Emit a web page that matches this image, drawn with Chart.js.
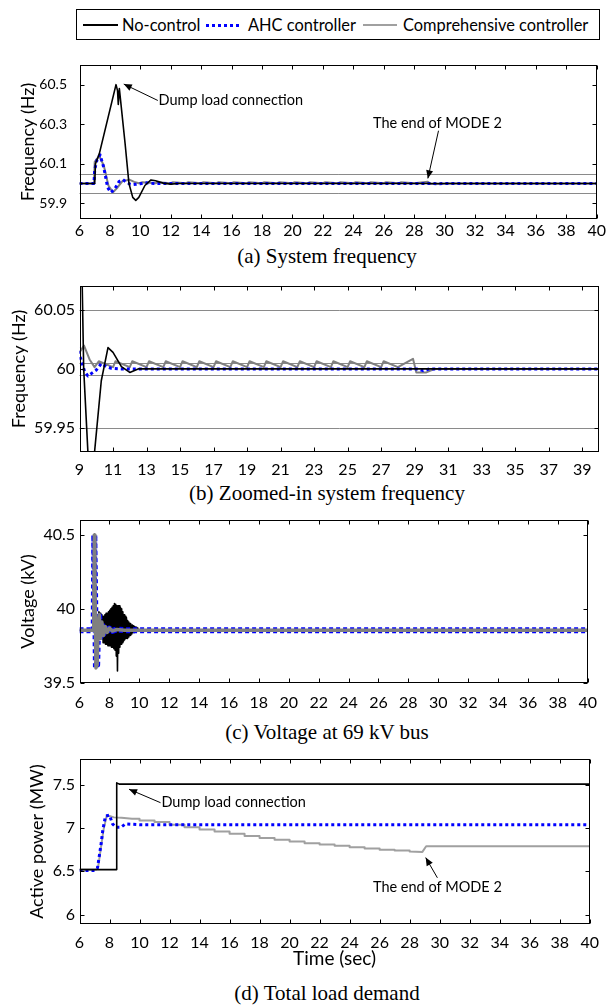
<!DOCTYPE html>
<html>
<head>
<meta charset="utf-8">
<script src="https://cdn.jsdelivr.net/npm/chart.js@4.4.1/dist/chart.umd.min.js"></script>
<style>
html,body{margin:0;padding:0;background:#fff;}
#wrap{position:relative;width:608px;height:1005px;overflow:hidden;font-family:Lato,'Open Sans',sans-serif;color:#000;}
canvas{position:absolute;left:0;}
.cap{position:absolute;left:0;width:654px;text-align:center;font-family:'Liberation Serif','Times New Roman',serif;font-size:21px;line-height:22px;white-space:nowrap;}
.lg{position:absolute;font-size:16.4px;line-height:20px;top:15px;white-space:nowrap;}
.sw{position:absolute;}
</style>
</head>
<body>
<div id="wrap">
  <div style="position:absolute;left:76px;top:9px;width:522px;height:29px;border:1px solid #000;"></div>
  <div class="sw" style="left:83px;top:24px;width:35px;height:2px;background:#000;"></div>
  <div class="lg" style="left:122px;">No-control</div>
  <div class="sw" style="left:206px;top:23.5px;width:34px;height:3px;background:repeating-linear-gradient(90deg,#0000ff 0 3px,transparent 3px 6px);"></div>
  <div class="lg" style="left:248px;">AHC controller</div>
  <div class="sw" style="left:363px;top:24px;width:34px;height:2px;background:#a0a0a0;"></div>
  <div class="lg" style="left:403px;">Comprehensive controller</div>

  <canvas id="cA" width="608" height="196" style="top:44px;"></canvas>
  <div class="cap" style="top:245px;">(a) System frequency</div>
  <canvas id="cB" width="608" height="204" style="top:272px;"></canvas>
  <div class="cap" style="top:482px;">(b) Zoomed-in system frequency</div>
  <canvas id="cC" width="608" height="214" style="top:506px;"></canvas>
  <div class="cap" style="top:721px;">(c) Voltage at 69 kV bus</div>
  <canvas id="cD" width="608" height="225" style="top:745px;"></canvas>
  <div class="cap" style="top:982px;">(d) Total load demand</div>
</div>
<script>
// ---------- Frequency (Hz), used by panels (a) and (b) ----------
const tNoCtrlF = [6, 7.0, 7.05, 7.3, 8.4, 8.5, 8.55, 8.62, 9.0, 9.25, 9.5, 9.7, 9.9, 10.3, 10.7, 11.0, 11.5, 12.0, 12.5, 40];
const fNoCtrl  = [60, 60, 60.1, 60.15, 60.5, 60.47, 60.4, 60.48, 60.2, 60.0, 59.93, 59.915, 59.93, 59.99, 60.018, 60.014, 60.002, 59.997, 60.0, 60.0];

const tAhcF = [6, 6.95, 7.0, 7.15, 7.35, 7.6, 7.85, 8.05, 8.3, 8.6, 8.85, 9.0, 9.3, 9.5, 9.7, 10.0, 10.3, 10.6, 10.9, 11.5, 29.2, 29.5, 29.9, 40];
const fAhc  = [60, 60, 60.07, 60.12, 60.145, 60.08, 59.98, 59.955, 59.97, 60.01, 60.02, 60.012, 59.998, 59.994, 59.996, 59.999, 60.0045, 60.002, 60.0005, 60.0, 60.0, 59.9985, 60.0, 60.0];

const tCompF = [6, 6.95, 7.0, 7.1, 7.3, 7.6, 7.9, 8.2, 8.5, 8.85, 9.0, 9.27, 9.6, 9.9,
  10.15, 11.0, 11.15, 12.0, 12.15, 13.0, 13.15, 14.0, 14.15, 15.0, 15.15, 16.0, 16.15, 17.0, 17.15,
  18.0, 18.15, 19.0, 19.15, 20.0, 20.15, 21.0, 21.15, 22.0, 22.15, 23.0, 23.15, 24.0, 24.15,
  25.0, 25.15, 26.0, 26.15, 27.0, 27.15, 28.0, 28.9, 29.1, 29.7, 30.2, 40];
const fComp  = [60, 60, 60.11, 60.12, 60.14, 60.09, 59.99, 59.955, 59.98, 60.015, 60.014, 60.0197, 60.008, 60.0015,
  60.0065, 60.0015, 60.0065, 60.0015, 60.0065, 60.0015, 60.0065, 60.0015, 60.0065, 60.0015, 60.0065, 60.0015, 60.0065, 60.0015, 60.0065,
  60.0015, 60.0065, 60.0015, 60.0065, 60.0015, 60.0065, 60.0015, 60.0065, 60.0015, 60.0065, 60.0015, 60.0065, 60.0015, 60.0065,
  60.0015, 60.0065, 60.0015, 60.0065, 60.0015, 60.0065, 60.0015, 60.0085, 59.997, 59.997, 60.0, 60.0];

// ---------- Voltage at 69 kV bus (kV), panel (c) ----------
const tNoCtrlV = [6, 7.26,
  7.30, 7.34, 7.38, 7.42, 7.46, 7.50, 7.54, 7.58, 7.62, 7.66, 7.70, 7.74, 7.78, 7.82, 7.86, 7.90,
  7.94, 7.98, 8.02, 8.06, 8.10, 8.14, 8.18, 8.22, 8.26, 8.30, 8.34, 8.38, 8.42, 8.46, 8.50, 8.54,
  8.58, 8.62, 8.66, 8.70, 8.74, 8.78, 8.82, 8.86, 8.90, 8.94, 8.98, 9.02, 9.06, 9.10, 9.14, 9.18,
  9.22, 9.26, 9.30, 9.34, 9.38, 9.42, 9.46, 9.50, 9.54, 9.58, 9.62, 9.66, 9.70, 9.74, 9.78, 9.82,
  9.86, 9.90, 10.0, 40];
const vNoCtrl = [39.855, 39.855,
  39.98, 39.80, 39.97, 39.82, 39.96, 39.80, 39.95, 39.77, 39.95, 39.77, 39.96, 39.76, 39.97, 39.76, 39.97, 39.75,
  39.98, 39.75, 39.99, 39.75, 40.00, 39.74, 40.01, 39.74, 40.02, 39.73, 40.035, 39.72, 40.03, 39.68, 40.02, 39.58,
  40.02, 39.70, 40.02, 39.74, 40.01, 39.76, 40.00, 39.77, 39.98, 39.78, 39.96, 39.79, 39.95, 39.80, 39.94, 39.80,
  39.92, 39.81, 39.91, 39.82, 39.90, 39.82, 39.89, 39.83, 39.89, 39.84, 39.885, 39.84, 39.88, 39.845, 39.875, 39.85,
  39.87, 39.85, 39.855, 39.855];

const tAhcV = [6, 6.95, 6.99, 7.03, 7.1, 7.18, 7.25, 7.32, 7.4, 7.5, 7.6, 7.72, 7.85, 8.0, 8.2, 8.5, 9.0, 40];
const vAhc  = [39.855, 39.855, 40.5, 40.2, 39.6, 39.62, 39.9, 39.95, 39.81, 39.9, 39.83, 39.87, 39.845, 39.865, 39.85, 39.86, 39.855, 39.855];

const tCompV = [6, 6.95, 6.99, 7.03, 7.1, 7.18, 7.25, 7.32, 7.4, 7.5, 7.6, 7.72, 7.85, 8.0, 8.2, 8.5, 9.0, 40];
const vComp  = [39.855, 39.855, 40.5, 40.2, 39.6, 39.62, 39.9, 39.96, 39.8, 39.91, 39.82, 39.88, 39.84, 39.87, 39.85, 39.86, 39.855, 39.855];

// ---------- Total load demand, active power (MW), panel (d) ----------
const tNoCtrlP = [6, 8.47, 8.48, 8.65, 40];
const pNoCtrl  = [6.52, 6.52, 7.525, 7.51, 7.51];

const tAhcP = [6, 7.0, 7.2, 7.45, 7.55, 7.73, 8.0, 8.2, 8.43, 8.75, 9.07, 9.5, 10, 40];
const pAhc  = [6.51, 6.51, 6.54, 6.83, 6.975, 7.14, 7.15, 7.05, 7.01, 7.01, 7.05, 7.045, 7.04, 7.04];

const tCompP = [6, 7.1, 7.25, 7.45, 7.6, 7.82, 8.0, 8.3, 8.8, 9.5,
  10, 10, 11, 11, 12, 12, 13, 13, 14, 14, 15, 15, 16, 16, 17, 17, 18, 18, 19, 19,
  20, 20, 21, 21, 22, 22, 23, 23, 24, 24, 25, 25, 26, 26, 27, 27, 28, 28, 28.85, 29.1, 40];
const pComp  = [6.52, 6.52, 6.56, 6.8, 6.98, 7.15, 7.14, 7.125, 7.12, 7.11,
  7.11, 7.09, 7.09, 7.07, 7.07, 7.04, 7.04, 7.01, 7.01, 6.985, 6.985, 6.96, 6.96, 6.935, 6.935, 6.91, 6.91, 6.885, 6.885, 6.865,
  6.865, 6.845, 6.845, 6.825, 6.825, 6.81, 6.81, 6.795, 6.795, 6.78, 6.78, 6.765, 6.765, 6.75, 6.75, 6.74, 6.74, 6.73, 6.725, 6.79, 6.79];

// ---------- Tick labels ----------
const xTicksMain = [6, 8, 10, 12, 14, 16, 18, 20, 22, 24, 26, 28, 30, 32, 34, 36, 38, 40];
const xTicksZoom = [9, 11, 13, 15, 17, 19, 21, 23, 25, 27, 29, 31, 33, 35, 37, 39];
const yTicksA = [59.9, 60.1, 60.3, 60.5];
const yTicksB = [59.95, 60, 60.05];
const yTicksC = [39.5, 40, 40.5];
const yTicksD = [6, 6.5, 7, 7.5];

// reference levels (horizontal gray lines)
const refA = [60.05, 59.95];
const refB = [60.05, 60.005, 59.995, 59.95];

const FONT = 'Lato, "Open Sans", sans-serif';
const BLACK = '#000000', BLUE = '#0000ff', GRAY = '#808080', LGRAY = '#a0a0a0';

function pts(t, v) { return t.map((x, i) => ({x: x, y: v[i]})); }

function arrow(ctx, x0, y0, x1, y1) {
  ctx.beginPath(); ctx.moveTo(x0, y0); ctx.lineTo(x1, y1); ctx.stroke();
  const a = Math.atan2(y1 - y0, x1 - x0), L = 8, W = 3.5;
  ctx.beginPath();
  ctx.moveTo(x1, y1);
  ctx.lineTo(x1 - L * Math.cos(a) + W * Math.sin(a), y1 - L * Math.sin(a) - W * Math.cos(a));
  ctx.lineTo(x1 - L * Math.cos(a) - W * Math.sin(a), y1 - L * Math.sin(a) + W * Math.cos(a));
  ctx.closePath(); ctx.fill();
}

const framePlugin = {
  id: 'frame',
  beforeDatasetsDraw(chart, args, opts) {
    const {ctx, chartArea: a, scales: {y}} = chart;
    ctx.save();
    ctx.strokeStyle = '#8a8a8a'; ctx.lineWidth = 1;
    (opts.refLines || []).forEach(v => {
      const py = Math.round(y.getPixelForValue(v)) + 0.5;
      ctx.beginPath(); ctx.moveTo(a.left, py); ctx.lineTo(a.right, py); ctx.stroke();
    });
    ctx.restore();
  },
  afterDatasetsDraw(chart, args, opts) {
    const {ctx, chartArea: a, scales: {x, y}} = chart;
    ctx.save();
    ctx.strokeStyle = '#000'; ctx.lineWidth = 1;
    const L = Math.round(a.left) + 0.5, R = Math.round(a.right) - 0.5, T = Math.round(a.top) + 0.5, B = Math.round(a.bottom) - 0.5;
    ctx.strokeRect(L, T, R - L, B - T);
    ctx.beginPath();
    x.ticks.forEach(tk => {
      const px = Math.round(x.getPixelForValue(tk.value)) + 0.5;
      ctx.moveTo(px, T); ctx.lineTo(px, T + 4);
      ctx.moveTo(px, B); ctx.lineTo(px, B - 4);
    });
    y.ticks.forEach(tk => {
      const py = Math.round(y.getPixelForValue(tk.value)) + 0.5;
      ctx.moveTo(L, py); ctx.lineTo(L + 4, py);
      ctx.moveTo(R, py); ctx.lineTo(R - 4, py);
    });
    ctx.stroke();
    // annotations
    ctx.fillStyle = '#000'; ctx.font = '14.5px ' + FONT; ctx.textBaseline = 'middle';
    (opts.notes || []).forEach(n => {
      ctx.textAlign = n.align;
      ctx.fillText(n.text, x.getPixelForValue(n.tx), y.getPixelForValue(n.ty));
      arrow(ctx, x.getPixelForValue(n.ax0), y.getPixelForValue(n.ay0), x.getPixelForValue(n.ax1), y.getPixelForValue(n.ay1));
    });
    ctx.restore();
  }
};

function makeChart(id, c) {
  return new Chart(document.getElementById(id), {
    type: 'line',
    data: {
      datasets: c.series.map(s => ({
        data: pts(s.t, s.v),
        borderColor: s.color, borderWidth: s.width, borderDash: s.dash || [],
        borderCapStyle: 'butt', borderJoinStyle: 'round',
        pointRadius: 0, fill: false, tension: 0
      }))
    },
    options: {
      responsive: false, animation: false, devicePixelRatio: 1,
      layout: {padding: {top: c.padTop, right: 9, left: 0, bottom: 0}},
      plugins: {legend: {display: false}, tooltip: {enabled: false},
        frame: {refLines: c.refLines || [], notes: c.notes || []}},
      scales: {
        x: {
          type: 'linear', min: c.xMin, max: 40,
          afterBuildTicks: s => { s.ticks = c.xTicks.map(v => ({value: v})); },
          afterFit: s => { s.height = c.xH; },
          grid: {display: false, drawTicks: false}, border: {display: false},
          ticks: {autoSkip: false, maxRotation: 0, padding: c.xPad, color: '#000',
            font: {family: FONT, size: c.xFont}, callback: v => String(v)},
          title: c.xTitle ? {display: true, text: c.xTitle, color: '#000',
            font: {family: FONT, size: 19}, padding: {top: 0, bottom: c.xTitlePad}} : {display: false}
        },
        y: {
          type: 'linear', min: c.yMin, max: c.yMax,
          afterBuildTicks: s => { s.ticks = c.yTicks.map(v => ({value: v})); },
          afterFit: s => { s.width = 79.5; },
          grid: {display: false, drawTicks: false}, border: {display: false},
          ticks: {autoSkip: false, padding: c.yPad, color: '#000',
            font: {family: FONT, size: c.yFont}, callback: v => String(+(+v).toFixed(4))},
          title: {display: true, text: c.yTitle, color: '#000',
            font: {family: FONT, size: 18}, padding: {top: c.yTitlePad, bottom: 0}}
        }
      }
    },
    plugins: [framePlugin]
  });
}

const freqSeries = [
  {t: tNoCtrlF, v: fNoCtrl, color: BLACK, width: 1.6},
  {t: tAhcF, v: fAhc, color: BLUE, width: 3, dash: [3, 3]},
  {t: tCompF, v: fComp, color: GRAY, width: 2}
];

makeChart('cA', {
  series: freqSeries, xMin: 6, yMin: 59.82, yMax: 60.6,
  xTicks: xTicksMain, yTicks: yTicksA, refLines: refA,
  padTop: 3.7, xH: 20.7, xPad: 2, xFont: 16, yPad: 12.5, yFont: 14,
  yTitle: 'Frequency (Hz)', yTitlePad: 17,
  notes: [
    {text: 'Dump load connection', align: 'left', tx: 11.2, ty: 60.42, ax0: 11.15, ay0: 60.42, ax1: 8.91, ay1: 60.503},
    {text: 'The end of MODE 2', align: 'center', tx: 29.53, ty: 60.303, ax0: 29.6, ay0: 60.267, ax1: 28.9, ay1: 60.026}
  ]
});

makeChart('cB', {
  series: freqSeries, xMin: 9, yMin: 59.93, yMax: 60.07,
  xTicks: xTicksZoom, yTicks: yTicksB, refLines: refB,
  padTop: 8, xH: 24.3, xPad: 9, xFont: 16, yPad: 4.5, yFont: 16,
  yTitle: 'Frequency (Hz)', yTitlePad: 8
});

makeChart('cC', {
  series: [
    {t: tCompV, v: vComp, color: GRAY, width: 3.5},
    {t: tAhcV, v: vAhc, color: BLUE, width: 6, dash: [4, 3]},
    {t: tNoCtrlV, v: vNoCtrl, color: BLACK, width: 1.6}
  ],
  xMin: 6, yMin: 39.5, yMax: 40.6,
  xTicks: xTicksMain, yTicks: yTicksC,
  padTop: 8, xH: 37.3, xPad: 11, xFont: 16, yPad: 4.5, yFont: 16,
  yTitle: 'Voltage (kV)', yTitlePad: 17
});

makeChart('cD', {
  series: [
    {t: tNoCtrlP, v: pNoCtrl, color: BLACK, width: 1.6},
    {t: tAhcP, v: pAhc, color: BLUE, width: 3, dash: [3, 3]},
    {t: tCompP, v: pComp, color: LGRAY, width: 2}
  ],
  xMin: 6, yMin: 5.89, yMax: 7.8,
  xTicks: xTicksMain, yTicks: yTicksD,
  padTop: 7.7, xH: 46, xPad: 9, xFont: 16, yPad: 4.5, yFont: 16,
  yTitle: 'Active power (MW)', yTitlePad: 26, xTitle: 'Time (sec)', xTitlePad: 0,
  notes: [
    {text: 'Dump load connection', align: 'left', tx: 11.46, ty: 7.295, ax0: 11.4, ay0: 7.295, ax1: 9.3, ay1: 7.451},
    {text: 'The end of MODE 2', align: 'center', tx: 29.85, ty: 6.314, ax0: 29.85, ay0: 6.425, ax1: 29.07, ay1: 6.659}
  ]
});
</script>
</body>
</html>
